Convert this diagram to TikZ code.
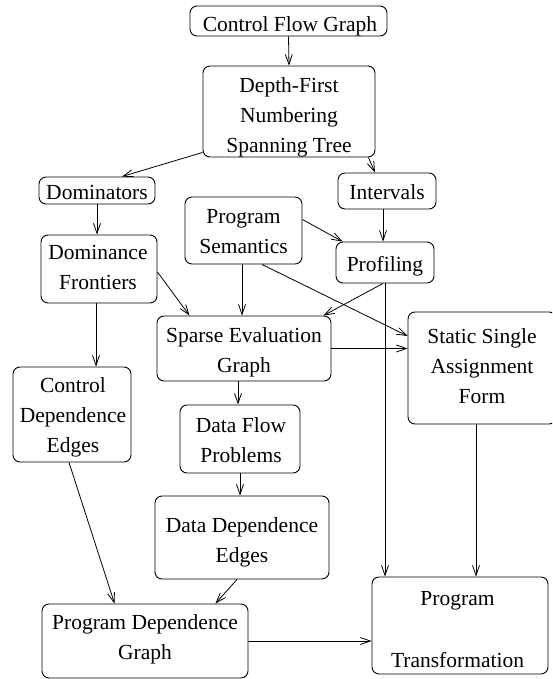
\documentclass[tikz,border=0pt]{standalone}
\usepackage{fontspec}
\setmainfont{Liberation Serif}
\usetikzlibrary{arrows.meta,calc}
\begin{document}
\begin{tikzpicture}[x=1pt,y=-1pt,
  box/.style={draw, line width=0.9pt, rounded corners=7pt, inner sep=0pt},
  lbl/.style={align=center, inner sep=0pt, font=\fontsize{21.5}{30}\selectfont,
    execute at begin node=\strut, execute at end node=\strut},
  conn/.style={line width=0.8pt, -{Straight Barb[length=10pt,width=7pt]}}]
\useasboundingbox (0,0) rectangle (552,679);
\clip (0,0) rectangle (552,679);
% boxes
\node[box, minimum width=197pt, minimum height=30pt] (cfg)  at (288.5,21) {};
\node[box, minimum width=172pt, minimum height=91pt] (df)   at (289,111.5) {};
\node[box, minimum width=116pt, minimum height=27pt] (dom)  at (97,190.5) {};
\node[box, minimum width=98pt,  minimum height=36pt] (int)  at (387,191) {};
\node[box, minimum width=117pt, minimum height=67pt] (ps)   at (243.5,230.5) {};
\node[box, minimum width=116pt, minimum height=68pt] (domf) at (99,269) {};
\node[box, minimum width=98pt,  minimum height=41pt] (prof) at (385,262.5) {};
\node[box, minimum width=174pt, minimum height=65pt] (seg)  at (244,348.5) {};
\node[box, minimum width=148pt, minimum height=112pt] (ssa) at (482,368) {};
\node[box, minimum width=118pt, minimum height=95pt] (cde)  at (72,414.5) {};
\node[box, minimum width=120pt, minimum height=68pt] (dfp)  at (240,439) {};
\node[box, minimum width=174pt, minimum height=83pt] (dde)  at (242,537.5) {};
\node[box, minimum width=206pt, minimum height=74pt] (pdg)  at (145,641) {};
\node[box, minimum width=176pt, minimum height=97pt] (pt)   at (460,625.5) {};
% texts
\node[lbl] (cfgt)  at (290,26) {Control Flow Graph};
\node[lbl] (dft)   at (289,119.5) {Depth-First\\Numbering\\Spanning Tree};
\node[lbl] (domt)  at (97,193) {Dominators};
\node[lbl] (intt)  at (387,193) {Intervals};
\node[lbl] (pst)   at (243.5,235.5) {Program\\Semantics};
\node[lbl] (domft) at (98,271.5) {Dominance\\Frontiers};
\node[lbl] (proft) at (385,265) {Profiling};
\node[lbl] (segt)  at (244,355) {Sparse Evaluation\\Graph};
\node[lbl] (ssat)  at (482,370.5) {Static Single\\Assignment\\Form};
\node[lbl] (cdet)  at (73,419.5) {Control\\Dependence\\Edges};
\node[lbl] (dfpt)  at (241,445) {Data Flow\\Problems};
\node[lbl] (ddet)  at (242,545) {Data Dependence\\Edges};
\node[lbl] (pdgt)  at (145,641.5) {Program Dependence\\Graph};
\node[lbl] (ptt)   at (457.5,633.5) {Program\\[32pt]Transformation};
% connectors
\draw[conn] (cfg.south) -- (df.north);
\draw[conn] ([yshift=5pt]df.south west) -- ([xshift=25pt]dom.north);
\draw[conn] ([xshift=-7pt]df.south east) -- ([xshift=-12pt]int.north);
\draw[conn] (dom.south) -- (dom.south |- domf.north);
\draw[conn] ([xshift=-4pt]int.south) -- ([xshift=-4pt]int.south |- prof.north);
\draw[conn] ([yshift=11pt]ps.east) -- ([xshift=7pt]prof.north west);
\draw[conn] ([yshift=-3pt]domf.east) -- ([xshift=33pt]seg.north west);
\draw[conn] ([xshift=-1.5pt]ps.south) -- ([xshift=-1.5pt]ps.south |- seg.north);
\draw[conn] ([xshift=-2pt]prof.south) -- ([xshift=-8pt]seg.north east);
\draw[conn] ([xshift=18.5pt]ps.south) -- ([yshift=32pt]ssa.west);
\draw[conn] (seg.east) -- (seg.east -| ssa.west);
\draw[conn] (prof.south) -- (prof.south |- pt.north);
\draw[conn] ([xshift=-6pt]ssa.south) -- ([xshift=-6pt]ssa.south |- pt.north);
\draw[conn] ([xshift=-3pt]domf.south) -- ([xshift=-3pt]domf.south |- cde.north);
\draw[conn] ([xshift=-2pt]dfp.north |- seg.south) -- ([xshift=-2pt]dfp.north);
\draw[conn] (dfp.south) -- (dfp.south |- dde.north);
\draw[conn] ([xshift=-3pt]cde.south) -- ([xshift=73pt]pdg.north west);
\draw[conn] ([xshift=-5pt]dde.south) -- ([xshift=-33pt]pdg.north east);
\draw[conn] (pdg.east) -- (pdg.east -| pt.west);
\end{tikzpicture}
\end{document}
